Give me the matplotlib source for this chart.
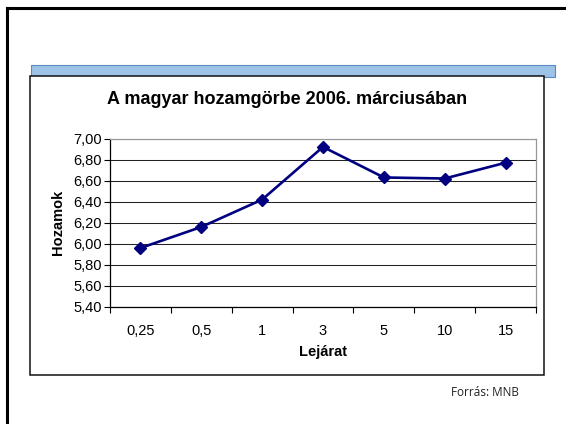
import numpy as np
import matplotlib
matplotlib.use('Agg')
import matplotlib.pyplot as plt
from matplotlib.patches import Rectangle
from matplotlib.lines import Line2D
from matplotlib.ticker import FixedLocator

plt.rcParams['font.family'] = ['Liberation Sans', 'DejaVu Sans']

# yield curve, March 2006
maturities = ['0,25', '0,5', '1', '3', '5', '10', '15']
yields = [5.96, 6.16, 6.42, 6.92, 6.63, 6.62, 6.77]
y_ticks = [5.40, 5.60, 5.80, 6.00, 6.20, 6.40, 6.60, 6.80, 7.00]

W, H = 566, 424
fig = plt.figure(figsize=(W / 100, H / 100), dpi=100)


def fx(px):
    return px / W


def fy(py):
    return 1 - py / H


# slide frame (left and top edges)
fig.add_artist(Line2D([fx(7), fx(7)], [fy(8), 0], color='black', lw=2.2, zorder=-2))
fig.add_artist(Line2D([fx(7), 1], [fy(8), fy(8)], color='black', lw=2.2, zorder=-2))

# blue header strip behind the chart box
fig.add_artist(Rectangle((fx(31), fy(77)), fx(555) - fx(31), fy(65) - fy(77),
                         facecolor='#9dc3e6', edgecolor='#5b8ac2', lw=0.8, zorder=-2))

# chart box
fig.add_artist(Rectangle((fx(30), fy(375)), fx(544) - fx(30), fy(76) - fy(375),
                         facecolor='white', edgecolor='#111111', lw=1.1, zorder=-1))

ax = fig.add_axes([fx(110), fy(307), fx(536) - fx(110), fy(138.5) - fy(307)])
ax.set_zorder(2)
ax.plot(maturities, yields, color='#000080', lw=1.9, marker='D',
        markersize=6, markeredgecolor='#000080', zorder=3)

ax.set_ylim(5.40, 7.00)
ax.set_xlim(-0.5, len(maturities) - 0.5)
ax.set_yticks(y_ticks)
ax.set_yticklabels([f'{v:.2f}'.replace('.', ',') for v in y_ticks])
ax.yaxis.grid(True, color='#222222', lw=0.75)
ax.set_axisbelow(True)

ax.xaxis.set_minor_locator(FixedLocator(np.arange(-0.5, len(maturities), 1.0)))
ax.tick_params(axis='x', which='major', length=0, pad=12, labelsize=10.5)
ax.tick_params(axis='x', which='minor', length=4.5, width=0.8, direction='out')
ax.tick_params(axis='y', length=4, width=0.8, direction='out', pad=2, labelsize=10.5)

for side in ('left', 'bottom'):
    ax.spines[side].set_color('black')
    ax.spines[side].set_linewidth(0.9)
for side in ('top', 'right'):
    ax.spines[side].set_color('#999999')
    ax.spines[side].set_linewidth(0.9)

ax.set_xlabel('Lejárat', fontsize=10.5, fontweight='bold', labelpad=5)
ax.set_ylabel('Hozamok', fontsize=10.5, fontweight='bold', labelpad=6)

fig.text(fx(287), fy(100), 'A magyar hozamgörbe 2006. márciusában',
         ha='center', va='center', fontsize=13, fontweight='bold')
fig.text(fx(485), fy(393), 'Forrás: MNB', ha='center', va='center',
         fontsize=8.5, family=['Open Sans', 'DejaVu Sans'], color='#222222')

fig.savefig('out.png', dpi=100)
